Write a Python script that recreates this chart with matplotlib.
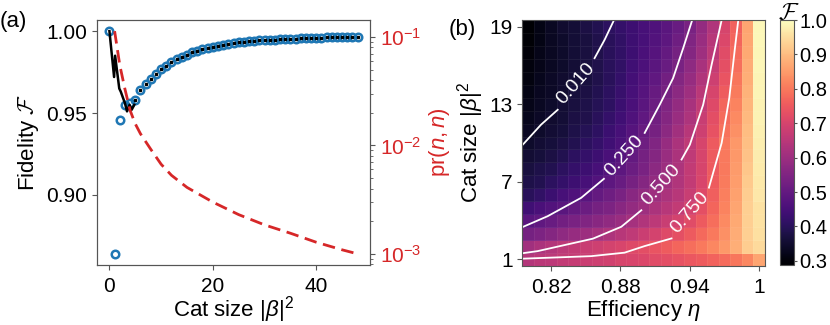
import matplotlib
matplotlib.use("Agg")
import matplotlib.pyplot as plt
import numpy as np

plt.rcParams['font.family'] = ['Liberation Sans', 'DejaVu Sans']
plt.rcParams['mathtext.fontset'] = 'custom'
plt.rcParams['mathtext.rm'] = 'Liberation Sans'
plt.rcParams['mathtext.it'] = 'Liberation Sans:italic'
plt.rcParams['mathtext.cal'] = 'cmsy10'
plt.rcParams['font.size'] = 15

# ---- panel (a) data ----
cat_size = list(range(49))
fidelity = [1.000, 0.864, 0.946, 0.955, 0.956, 0.958, 0.964, 0.968, 0.971, 0.974,
            0.977, 0.979, 0.981, 0.983, 0.984, 0.9855, 0.987, 0.988, 0.989, 0.990,
            0.9905, 0.991, 0.9918, 0.9924, 0.9928, 0.9932, 0.9935, 0.9938, 0.994, 0.9943,
            0.9945, 0.9947, 0.9949, 0.9951, 0.9952, 0.9954, 0.9955, 0.9957, 0.9958, 0.9959,
            0.996, 0.9961, 0.9962, 0.9963, 0.9963, 0.9964, 0.9965, 0.9965, 0.9966]
# solid black approximation at small cat sizes
approx_x = [0, 0.9, 1.1, 1.9, 2.2, 3.0, 3.4, 3.9, 4.3, 4.8]
approx_f = [1.000, 0.972, 0.985, 0.965, 0.963, 0.956, 0.951, 0.955, 0.952, 0.955]
# probability pr(n, n)
prob_x = [1, 2, 3, 4, 5, 6, 8, 10, 12, 15, 20, 25, 30, 35, 40, 45, 48]
prob_y = [0.113, 0.055, 0.033, 0.021, 0.0158, 0.0128, 0.0092, 0.0067, 0.0053, 0.0041,
          0.0030, 0.0023, 0.00185, 0.00155, 0.00128, 0.00109, 0.0010]

# ---- panel (b) data ----
eta = [0.80, 0.81, 0.82, 0.83, 0.84, 0.85, 0.86, 0.87, 0.88, 0.89, 0.90,
       0.91, 0.92, 0.93, 0.94, 0.95, 0.96, 0.97, 0.98, 0.99, 1.00]
n_cat = list(range(1, 20))
fid_map = [  # rows n = 1 .. 19, columns eta = 0.80 .. 1.00
    [0.64, 0.65, 0.655, 0.665, 0.67, 0.68, 0.685, 0.69, 0.70, 0.705, 0.71, 0.72, 0.725, 0.735, 0.745, 0.755, 0.765, 0.78, 0.795, 0.82, 0.864],
    [0.61, 0.625, 0.64, 0.655, 0.665, 0.675, 0.685, 0.695, 0.705, 0.715, 0.725, 0.74, 0.755, 0.77, 0.785, 0.80, 0.82, 0.845, 0.88, 0.925, 0.946],
    [0.53, 0.545, 0.56, 0.575, 0.59, 0.60, 0.615, 0.63, 0.645, 0.66, 0.68, 0.695, 0.715, 0.73, 0.75, 0.775, 0.80, 0.835, 0.875, 0.93, 0.955],
    [0.48, 0.495, 0.51, 0.525, 0.54, 0.55, 0.565, 0.58, 0.595, 0.615, 0.635, 0.655, 0.675, 0.695, 0.72, 0.75, 0.785, 0.825, 0.87, 0.93, 0.956],
    [0.44, 0.455, 0.47, 0.485, 0.50, 0.515, 0.53, 0.545, 0.565, 0.585, 0.605, 0.625, 0.645, 0.665, 0.695, 0.73, 0.77, 0.815, 0.865, 0.93, 0.958],
    [0.40, 0.415, 0.43, 0.45, 0.465, 0.48, 0.50, 0.52, 0.54, 0.565, 0.585, 0.605, 0.625, 0.645, 0.675, 0.715, 0.76, 0.81, 0.86, 0.925, 0.964],
    [0.38, 0.39, 0.405, 0.42, 0.435, 0.45, 0.47, 0.49, 0.51, 0.535, 0.56, 0.585, 0.61, 0.635, 0.665, 0.705, 0.755, 0.805, 0.855, 0.92, 0.968],
    [0.37, 0.38, 0.39, 0.405, 0.42, 0.435, 0.45, 0.47, 0.49, 0.515, 0.54, 0.57, 0.60, 0.63, 0.665, 0.70, 0.75, 0.80, 0.85, 0.915, 0.971],
    [0.355, 0.365, 0.375, 0.39, 0.405, 0.42, 0.435, 0.455, 0.475, 0.50, 0.53, 0.56, 0.595, 0.625, 0.66, 0.70, 0.75, 0.80, 0.847, 0.91, 0.974],
    [0.345, 0.355, 0.365, 0.375, 0.39, 0.405, 0.42, 0.44, 0.46, 0.49, 0.52, 0.55, 0.59, 0.625, 0.66, 0.70, 0.75, 0.80, 0.845, 0.905, 0.977],
    [0.335, 0.345, 0.355, 0.365, 0.38, 0.395, 0.41, 0.43, 0.45, 0.475, 0.505, 0.535, 0.57, 0.61, 0.645, 0.685, 0.735, 0.79, 0.835, 0.90, 0.979],
    [0.325, 0.34, 0.35, 0.36, 0.375, 0.385, 0.40, 0.42, 0.44, 0.465, 0.495, 0.525, 0.56, 0.595, 0.63, 0.675, 0.725, 0.78, 0.825, 0.895, 0.981],
    [0.32, 0.335, 0.345, 0.355, 0.37, 0.38, 0.395, 0.41, 0.43, 0.455, 0.485, 0.515, 0.55, 0.585, 0.62, 0.665, 0.715, 0.77, 0.815, 0.89, 0.983],
    [0.315, 0.33, 0.34, 0.35, 0.365, 0.375, 0.39, 0.405, 0.425, 0.45, 0.475, 0.505, 0.535, 0.57, 0.605, 0.65, 0.70, 0.755, 0.805, 0.885, 0.984],
    [0.31, 0.325, 0.34, 0.35, 0.36, 0.37, 0.385, 0.40, 0.42, 0.445, 0.47, 0.495, 0.525, 0.555, 0.59, 0.635, 0.685, 0.74, 0.795, 0.88, 0.9855],
    [0.305, 0.32, 0.335, 0.345, 0.36, 0.37, 0.385, 0.40, 0.415, 0.44, 0.46, 0.485, 0.51, 0.54, 0.575, 0.62, 0.67, 0.73, 0.785, 0.875, 0.987],
    [0.30, 0.32, 0.335, 0.345, 0.36, 0.37, 0.385, 0.40, 0.415, 0.435, 0.455, 0.475, 0.50, 0.53, 0.56, 0.605, 0.655, 0.72, 0.78, 0.872, 0.988],
    [0.295, 0.315, 0.335, 0.345, 0.36, 0.37, 0.385, 0.40, 0.415, 0.435, 0.45, 0.47, 0.49, 0.52, 0.55, 0.595, 0.645, 0.71, 0.77, 0.868, 0.989],
    [0.29, 0.315, 0.335, 0.35, 0.36, 0.375, 0.39, 0.405, 0.42, 0.435, 0.45, 0.465, 0.485, 0.51, 0.54, 0.585, 0.635, 0.70, 0.765, 0.865, 0.99],
]
cbar_ticks = [0.3, 0.4, 0.5, 0.6, 0.7, 0.8, 0.9, 1.0]
eta_ticks = [0.82, 0.88, 0.94, 1.0]
eta_ticklabels = ['0.82', '0.88', '0.94', '1']
n_ticks = [1, 7, 13, 19]

# contour lines of pr(n, n): (upper piece, lower piece), label goes in the gap
contour_levels = ['0.010', '0.250', '0.500', '0.750']
contour_eta = [
    ([0.8744, 0.8663, 0.8576], [0.8257, 0.8113, 0.7968, 0.7940]),
    ([0.9421, 0.9343, 0.9256, 0.9140, 0.9010], [0.8657, 0.8460, 0.8170, 0.7940]),
    ([0.9676, 0.9589, 0.9516, 0.9401, 0.9329], [0.8981, 0.8807, 0.8561, 0.8084, 0.7940]),
    ([0.9820, 0.9791, 0.9742, 0.9676, 0.9566], [0.9242, 0.9010, 0.8836, 0.8547, 0.7940]),
]
contour_n = [
    ([19.5, 17.98, 16.56], [12.57, 11.42, 10.0, 9.74]),
    ([19.5, 17.33, 15.02, 12.96, 10.78], [7.23, 5.76, 4.34, 3.45]),
    ([19.5, 16.05, 12.96, 9.87, 8.72], [4.80, 3.52, 2.60, 1.64, 1.46]),
    ([19.5, 17.33, 13.48, 10.0, 6.55], [2.62, 2.03, 1.52, 1.25, 1.05]),
]
label_rot = [49, 48, 48, 49]

blue = '#1f77b4'
red = '#d62728'
frame = '#555555'

fig = plt.figure(figsize=(8.3, 3.25), dpi=100)

# ---------------- panel (a) ----------------
ax1 = fig.add_axes([0.1169, 0.1846, 0.3289, 0.7538])
ax1.plot(approx_x, approx_f, color='k', lw=1.8, zorder=3)
ax1.plot(cat_size[5:], fidelity[5:], color='k', ls='none', marker='s', ms=2.0, zorder=4)
ax1.plot(cat_size, fidelity, ls='none', marker='o', ms=5.4, mfc='none',
         mec=blue, mew=1.8, zorder=2)
ax1.set_xlabel(r'Cat size $|\beta|^2$', labelpad=-1, fontsize=16)
ax1.set_ylabel(r'Fidelity $\mathcal{F}$', fontsize=16)
ax1.set_yticks([0.90, 0.95, 1.00])
ax1.set_yticklabels(['0.90', '0.95', '1.00'])
ax1.set_xticks([0, 20, 40])
ax1.tick_params(axis='x', pad=5)

ax1r = ax1.twinx()
ax1r.plot(prob_x, prob_y, color=red, lw=2, ls=(0, (4.5, 2.4)), zorder=5)
ax1r.set_yscale('log')
ax1r.set_ylabel(r'$\mathrm{pr}(n,n)$', color=red, fontsize=16)
ax1r.tick_params(axis='y', which='both', labelcolor=red)

for a in (ax1, ax1r):
    for s in a.spines.values():
        s.set_color(frame)
    a.tick_params(which='both', color=frame, length=3.5)
ax1r.tick_params(which='minor', length=2)

fig.text(0.0, 0.933, '(a)', ha='left', va='center', fontsize=16)

# ---------------- panel (b) ----------------
ax2 = fig.add_axes([0.6292, 0.182, 0.2923, 0.756])
mesh = ax2.pcolormesh(eta, n_cat, np.array(fid_map), cmap='magma', vmin=0.288, vmax=1.0,
                      shading='nearest', edgecolors=(1, 1, 1, 0.06), linewidth=0.4)
ax2.set_xlim(0.795, 1.005)
ax2.set_ylim(0.5, 19.5)
ax2.set_xticks(eta_ticks)
ax2.set_xticklabels(eta_ticklabels)
ax2.set_yticks(n_ticks)
ax2.set_xlabel(r'Efficiency $\eta$', labelpad=1, fontsize=16)
ax2.set_ylabel(r'Cat size $|\beta|^2$', labelpad=2, fontsize=16)
for s in ax2.spines.values():
    s.set_color(frame)
ax2.tick_params(color=frame, length=3.5)
ax2.tick_params(axis='x', pad=5)

for lev, (ue, le), (un, ln), rot in zip(contour_levels, contour_eta, contour_n, label_rot):
    ax2.plot(ue, un, color='white', lw=1.3)
    ax2.plot(le, ln, color='white', lw=1.3)
    mid = ((le[0] + ue[-1]) / 2, (ln[0] + un[-1]) / 2)
    ax2.text(mid[0], mid[1], lev, color='white', fontsize=14, rotation=rot,
             rotation_mode='anchor', ha='center', va='center')

cax = fig.add_axes([0.9398, 0.1846, 0.0169, 0.7538])
cb = fig.colorbar(mesh, cax=cax, ticks=cbar_ticks)
cb.ax.set_yticklabels([f'{t:.1f}' for t in cbar_ticks])
cb.outline.set_edgecolor(frame)
cb.ax.tick_params(color=frame, length=2.5, pad=1.2, labelsize=14.5)
fig.text(0.9506, 0.96, r'$\mathcal{F}$', ha='center', va='center', fontsize=17)

fig.text(0.540, 0.909, '(b)', ha='left', va='center', fontsize=16)

fig.savefig('out.png', dpi=100)
